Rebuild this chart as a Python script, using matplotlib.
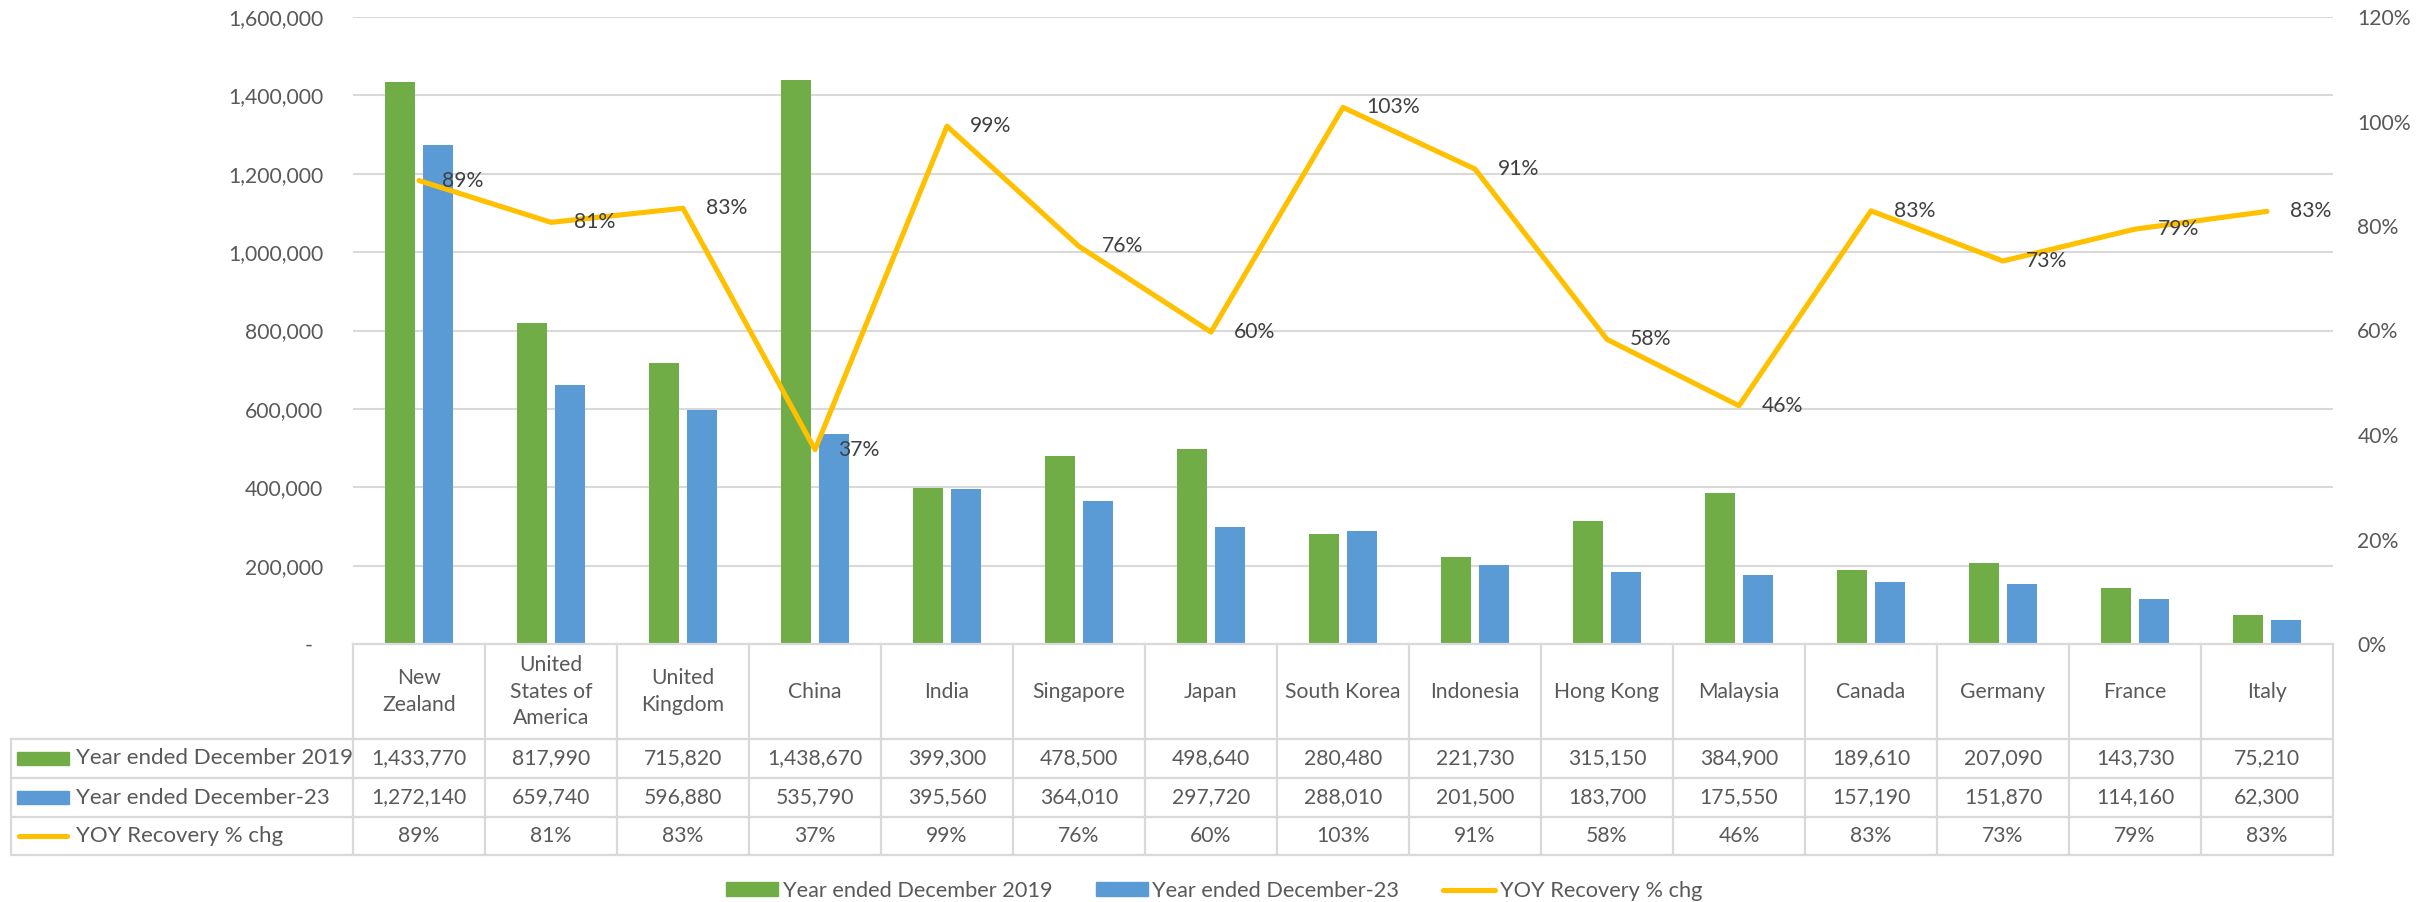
import matplotlib
matplotlib.use("Agg")
import matplotlib.pyplot as plt
from matplotlib.patches import Rectangle, Patch
from matplotlib.lines import Line2D
from matplotlib.ticker import FuncFormatter, MultipleLocator
from matplotlib.transforms import blended_transform_factory

plt.rcParams['font.family'] = ['Lato', 'DejaVu Sans']

# ---------------- data ----------------
countries = ["New\nZealand", "United\nStates of\nAmerica", "United\nKingdom", "China", "India",
             "Singapore", "Japan", "South Korea", "Indonesia", "Hong Kong", "Malaysia",
             "Canada", "Germany", "France", "Italy"]
year_2019 = [1433770, 817990, 715820, 1438670, 399300, 478500, 498640, 280480,
             221730, 315150, 384900, 189610, 207090, 143730, 75210]
year_2023 = [1272140, 659740, 596880, 535790, 395560, 364010, 297720, 288010,
             201500, 183700, 175550, 157190, 151870, 114160, 62300]
recovery = [0.887, 0.807, 0.834, 0.372, 0.991, 0.761, 0.597, 1.027,
            0.909, 0.583, 0.456, 0.829, 0.733, 0.794, 0.828]
series_names = ["Year ended December 2019", "Year ended December-23", "YOY Recovery % chg"]

GREEN = "#70AD47"
BLUE = "#5B9BD5"
YELLOW = "#FFC000"
GRID = "#D9D9D9"
TXT = "#595959"
LBL = "#404040"
FS = 15.2

W, H = 2433, 902
fig = plt.figure(figsize=(W / 100, H / 100), dpi=100)
px_l, px_r, px_t, px_b = 353, 2333, 17, 644
aw = px_r - px_l
ah = px_b - px_t
ax = fig.add_axes([px_l / W, (H - px_b) / H, aw / W, ah / H])

n = len(countries)
x = list(range(n))
bw = 30 / 132
off = 19 / 132
ax.bar([i - off for i in x], year_2019, width=bw, color=GREEN, zorder=2)
ax.bar([i + off for i in x], year_2023, width=bw, color=BLUE, zorder=2)
ax.set_xlim(-0.5, n - 0.5)
ax.set_ylim(0, 1600000)
ax.yaxis.set_major_locator(MultipleLocator(200000))
ax.yaxis.set_major_formatter(FuncFormatter(lambda v, p: "-  " if v == 0 else f"{v:,.0f}"))
ax.grid(axis='y', color=GRID, linewidth=1.5)
ax.set_axisbelow(True)
ax.set_xticks([])
ax.tick_params(axis='y', length=0, pad=21.5, labelsize=FS, labelcolor=TXT)
for s in ax.spines.values():
    s.set_visible(False)

ax2 = ax.twinx()
ax2.plot(x, recovery, color=YELLOW, linewidth=3.7, solid_joinstyle='round',
         solid_capstyle='round', zorder=3)
ax2.set_ylim(0, 1.2)
ax2.yaxis.set_major_locator(MultipleLocator(0.2))
ax2.yaxis.set_major_formatter(FuncFormatter(lambda v, p: f"{v * 100:.0f}%"))
ax2.tick_params(axis='y', length=0, pad=17.5, labelsize=FS, labelcolor=TXT)
for s in ax2.spines.values():
    s.set_visible(False)
for i, r in enumerate(recovery):
    ax2.annotate(f"{r * 100:.0f}%", (i, r), xytext=(16.5, 0), textcoords='offset points',
                 ha='left', va='center', fontsize=FS, color=LBL, zorder=4)

# ---------------- data table (drawn below the axes) ----------------
def ax_y(py):
    return (px_b - py) / ah

def ax_x(pxx):
    return (pxx - px_l) / aw

tr_axes = ax.transAxes
tr_cat = blended_transform_factory(ax.transData, ax.transAxes)

tbl_left = 11
row_edges = [644, 739, 778, 817, 855]
line_kw = dict(color=GRID, linewidth=1.6, clip_on=False, transform=tr_axes, solid_capstyle='projecting')

# horizontal borders
ax.add_line(Line2D([0, 1], [ax_y(row_edges[0])] * 2, **line_kw))
for ye in row_edges[1:]:
    ax.add_line(Line2D([ax_x(tbl_left), 1], [ax_y(ye)] * 2, **line_kw))
# vertical borders
ax.add_line(Line2D([ax_x(tbl_left)] * 2, [ax_y(row_edges[1]), ax_y(row_edges[-1])], **line_kw))
for k in range(n + 1):
    ax.add_line(Line2D([k / n] * 2, [ax_y(row_edges[0]), ax_y(row_edges[-1])], **line_kw))

# header row: category names
hy = ax_y((row_edges[0] + row_edges[1]) / 2)
for j, c in enumerate(countries):
    ax.text(j, hy, c, transform=tr_cat, ha='center', va='center', fontsize=FS,
            color=TXT, linespacing=1.4, clip_on=False)

rows_text = [[f"{v:,}" for v in year_2019],
             [f"{v:,}" for v in year_2023],
             [f"{r * 100:.0f}%" for r in recovery]]
for ri in range(3):
    cy = ax_y((row_edges[ri + 1] + row_edges[ri + 2]) / 2)
    ax.text(ax_x(76), cy, series_names[ri], transform=tr_axes, ha='left', va='center',
            fontsize=FS + 0.8, color=TXT, clip_on=False)
    for j in range(n):
        ax.text(j, cy, rows_text[ri][j], transform=tr_cat, ha='center', va='center',
                fontsize=FS, color=TXT, clip_on=False)

# legend keys inside the table
for ri, col in enumerate([GREEN, BLUE]):
    cyp = (row_edges[ri + 1] + row_edges[ri + 2]) / 2
    ax.add_patch(Rectangle((ax_x(17), ax_y(cyp + 6.5)), 52 / aw, 13 / ah,
                           transform=tr_axes, color=col, clip_on=False))
cyp = (row_edges[3] + row_edges[4]) / 2
ax.add_line(Line2D([ax_x(19), ax_x(67)], [ax_y(cyp)] * 2, transform=tr_axes, color=YELLOW,
                   linewidth=3.7, solid_capstyle='round', clip_on=False))

# ---------------- bottom legend ----------------
handles = [Patch(color=GREEN), Patch(color=BLUE),
           Line2D([], [], color=YELLOW, linewidth=3.7, solid_capstyle='round')]
fig.legend(handles, series_names, loc='center', bbox_to_anchor=(1214 / W, (H - 891) / H),
           ncol=3, frameon=False, fontsize=FS + 0.5, labelcolor=TXT, handlelength=2.4,
           handleheight=0.62, handletextpad=0.2, columnspacing=2.0)

fig.savefig("out.png", dpi=100, facecolor="white")
